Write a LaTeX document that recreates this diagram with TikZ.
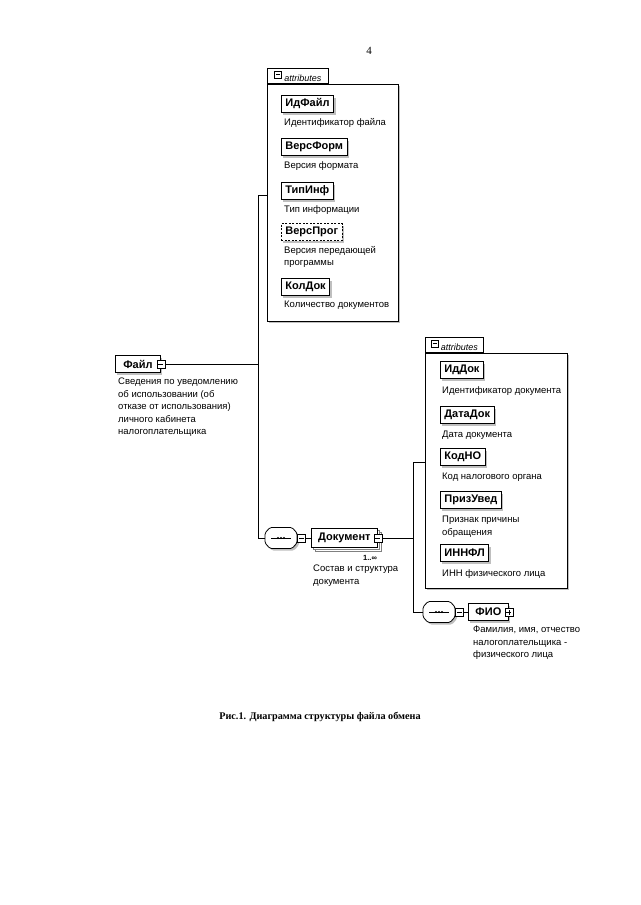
\documentclass[tikz,border=0pt]{standalone}
\usepackage{fontspec}
\setmainfont{Liberation Serif}
\newfontfamily\arial{Liberation Sans}
\usetikzlibrary{shadows,positioning}
\tikzset{
    elembase/.style={draw, thick, fill=white, font=\arial\bfseries\fontsize{11}{12}\selectfont,
        minimum height=17, inner xsep=4, inner ysep=1, anchor=west},
    elem/.style={elembase, drop shadow={shadow xshift=2pt, shadow yshift=-2pt, fill=gray!50, opacity=1}},
    optelem/.style={elem, dash pattern=on 2pt off 1.5pt},
    multielem/.style={elembase, double copy shadow={shadow xshift=2pt, shadow yshift=-2pt, draw=gray, thin}},
    desc/.style={font=\arial\fontsize{9.5}{12.5}\selectfont, align=left, inner sep=0, anchor=north west},
    minusbtn/.style={draw, fill=white, minimum size=8, inner sep=0,
        path picture={\draw ([xshift=1.5pt]path picture bounding box.west) -- ([xshift=-1.5pt]path picture bounding box.east);}},
    plusbtn/.style={draw, fill=white, minimum size=8, inner sep=0,
        path picture={\draw ([xshift=1.5pt]path picture bounding box.west) -- ([xshift=-1.5pt]path picture bounding box.east);
                      \draw ([yshift=1.5pt]path picture bounding box.south) -- ([yshift=-1.5pt]path picture bounding box.north);}},
    attrbox/.style={draw, thick, fill=white, inner sep=0, anchor=north west,
        drop shadow={shadow xshift=2pt, shadow yshift=-2pt, fill=gray!50, opacity=1}},
    attrtab/.style={draw, thick, fill=white, anchor=south west, minimum height=15, inner xsep=3, inner ysep=0,
        font=\arial\itshape\fontsize{9}{10}\selectfont},
    seqnode/.style={minimum width=32, minimum height=21, inner sep=0},
}
\newcommand{\tabminus}{\tikz[baseline=-.7ex]\draw[thin] (0,0) rectangle (7pt,7pt) (1.5pt,3.5pt) -- (5.5pt,3.5pt);}
% sequence compositor: name, position
\newcommand{\seqbox}[2]{
    \fill[gray!50, shift={(#2)}, xshift=2pt, yshift=-2pt, rounded corners=1.5] (-16,-5) -- (-11,-10.5) -- (11,-10.5) -- (16,-5) -- (16,5) -- (11,10.5) -- (-11,10.5) -- (-16,5) -- cycle;
    \draw[thick, fill=white, shift={(#2)}, rounded corners=1.5] (-16,-5) -- (-11,-10.5) -- (11,-10.5) -- (16,-5) -- (16,5) -- (11,10.5) -- (-11,10.5) -- (-16,5) -- cycle;
    \node[seqnode] (#1) at (#2) {};
    \draw ([xshift=-10]#1.center) -- ([xshift=10]#1.center);
    \foreach \d in {-3,0,3} \fill ([xshift=\d]#1.center) circle (1.1);
}
\begin{document}
\begin{tikzpicture}[x=1pt, y=-1pt]
\useasboundingbox[fill=white] (0,0) rectangle (640,905);
\node[font=\fontsize{11}{13}\selectfont] (pagenum) at (369,51) {4};

% first attributes group
\node[attrbox, minimum width=131, minimum height=237] (attr1) at (267,84) {};
\node[attrtab, minimum width=61] (tab1) at (attr1.north west) {\tabminus\ attributes};
\foreach \nm/\txt/\y/\dsc/\st in {idfile/ИдФайл/104/Идентификатор файла/elem,
    versform/ВерсФорм/147/Версия формата/elem,
    tipinf/ТипИнф/191/Тип информации/elem,
    versprog/ВерсПрог/232/{Версия передающей\\программы}/optelem,
    koldok/КолДок/287/Количество документов/elem}
{
    \node[\st] (\nm) at (281,\y) {\txt};
    \node[desc] (\nm-d) at (284,\y+14) {\dsc};
}

% root element
\node[elem, minimum width=45] (file) at (115,364) {Файл};
\node[minusbtn] (filebtn) at (file.east) {};
\node[desc] (file-d) at (118,378) {Сведения по уведомлению\\об использовании (об\\отказе от использования)\\личного кабинета\\налогоплательщика};

% sequence with document
\seqbox{seq1}{281,538}
\node[minusbtn, anchor=west] (seq1btn) at (seq1.east) {};
\node[multielem, minimum height=19, minimum width=66] (doc) at (311,538) {Документ};
\node[minusbtn] (docbtn) at (doc.east) {};
\node[font=\arial\bfseries\fontsize{7.5}{8}\selectfont, inner sep=0] (doc-n) at (370,558) {1..∞};
\node[desc] (doc-d) at (313,565) {Состав и структура\\документа};

% second attributes group
\node[attrbox, minimum width=142, minimum height=235] (attr2) at (425,353) {};
\node[attrtab, minimum width=58] (tab2) at (attr2.north west) {\tabminus\ attributes};
\foreach \nm/\txt/\y/\dsc in {iddok/ИдДок/370/Идентификатор документа,
    datadok/ДатаДок/415/Дата документа,
    kodno/КодНО/457/Код налогового органа,
    prizuved/ПризУвед/500/{Признак причины\\обращения},
    innfl/ИННФЛ/553/ИНН физического лица}
{
    \node[elem] (\nm) at (440,\y) {\txt};
    \node[desc] (\nm-d) at (442,\y+16) {\dsc};
}

% sequence with FIO
\seqbox{seq2}{439,612}
\node[minusbtn, anchor=west] (seq2btn) at (seq2.east) {};
\node[elem, minimum width=40] (fio) at (468,612) {ФИО};
\node[plusbtn] (fiobtn) at (fio.east) {};
\node[desc] (fio-d) at (473,626) {Фамилия, имя, отчество\\налогоплательщика -\\физического лица};

% connectors
\coordinate (s1) at (258,195);
\coordinate (s2) at (413,462);
\draw[thick] (attr1.west |- s1) -- (s1) |- (seq1.west);
\draw[thick] (filebtn.east) -- (filebtn.east -| s1);
\draw[thick] (seq1btn.east) -- (doc.west);
\draw[thick] (attr2.west |- s2) -- (s2) |- (seq2.west);
\draw[thick] (docbtn.east) -- (docbtn.east -| s2);
\draw[thick] (seq2btn.east) -- (fio.west);

\node[font=\bfseries\fontsize{10.2}{12}\selectfont] (caption) at (320,717) {Рис.1. Диаграмма структуры файла обмена};
\end{tikzpicture}
\end{document}
